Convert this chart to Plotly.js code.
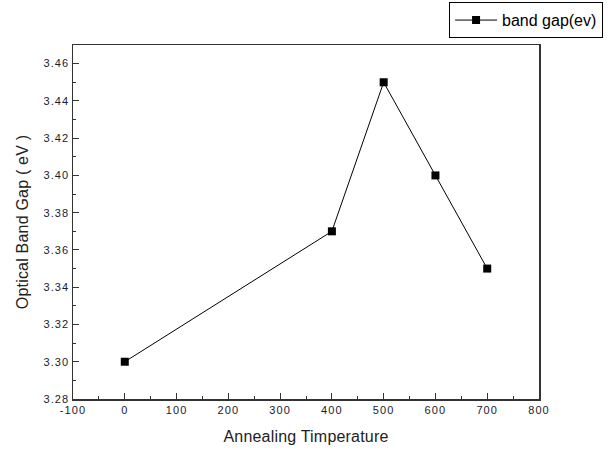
<!DOCTYPE html>
<html><head><meta charset="utf-8">
<script src="https://cdn.plot.ly/plotly-3.0.1.min.js"></script>
<style>
html,body{margin:0;padding:0;background:#fff}
.xtick text, .ytick text { letter-spacing: 1.1px; }
.xtitle, .ytitle { letter-spacing: 0.2px; }
</style>
</head><body>
<div id="chart" style="width:616px;height:450px"></div>
<script>
var temperature = [0, 400, 500, 600, 700];
var bandGap = [3.30, 3.37, 3.45, 3.40, 3.35];
var seriesName = 'band gap(ev)';
var xTicks = [-100, 0, 100, 200, 300, 400, 500, 600, 700, 800];
var yTicks = [3.28, 3.30, 3.32, 3.34, 3.36, 3.38, 3.40, 3.42, 3.44, 3.46];

var trace = {
  x: temperature, y: bandGap, name: seriesName,
  type: 'scatter', mode: 'lines+markers',
  line: {color: '#000', width: 1},
  marker: {symbol: 'square', size: 8, color: '#000'}
};
var fam = 'Arial, Liberation Sans, sans-serif';
var tickFont = {family: fam, size: 11, color: '#1a1a2e'};
var layout = {
  width: 616, height: 450,
  margin: {l: 73, r: 77, t: 45, b: 51, autoexpand: false},
  paper_bgcolor: '#fff', plot_bgcolor: '#fff',
  showlegend: true,
  legend: {x: 0.807, y: 1.121, xanchor: 'left', yanchor: 'top',
    itemwidth: 42,
    bordercolor: '#000', borderwidth: 1, bgcolor: '#fff',
    font: {family: fam, size: 16, color: '#000'}},
  xaxis: {
    range: [-100, 800], tickvals: xTicks, ticktext: xTicks.map(String),
    ticks: 'inside', ticklen: 6, tickwidth: 1, tickcolor: '#333',
    minor: {dtick: 50, ticks: 'inside', ticklen: 3, tickwidth: 1, tickcolor: '#333', showgrid: false},
    showline: true, mirror: true, linecolor: '#333', linewidth: 1.5,
    showgrid: false, zeroline: false, tickfont: tickFont,
    title: {text: 'Annealing Timperature', font: {family: fam, size: 16, color: '#222'}, standoff: 16}
  },
  yaxis: {
    range: [3.28, 3.47], tickvals: yTicks, ticktext: yTicks.map(function(v){return v.toFixed(2);}),
    ticks: 'inside', ticklen: 6, tickwidth: 1, tickcolor: '#333',
    minor: {dtick: 0.01, ticks: 'inside', ticklen: 3, tickwidth: 1, tickcolor: '#333', showgrid: false},
    showline: true, mirror: true, linecolor: '#333', linewidth: 1.5,
    showgrid: false, zeroline: false, tickfont: tickFont,
    title: {text: 'Optical Band Gap ( eV )', font: {family: fam, size: 16, color: '#222'}, standoff: 11}
  }
};
Plotly.newPlot('chart', [trace], layout, {displayModeBar: false, staticPlot: true});
</script>
</body></html>
